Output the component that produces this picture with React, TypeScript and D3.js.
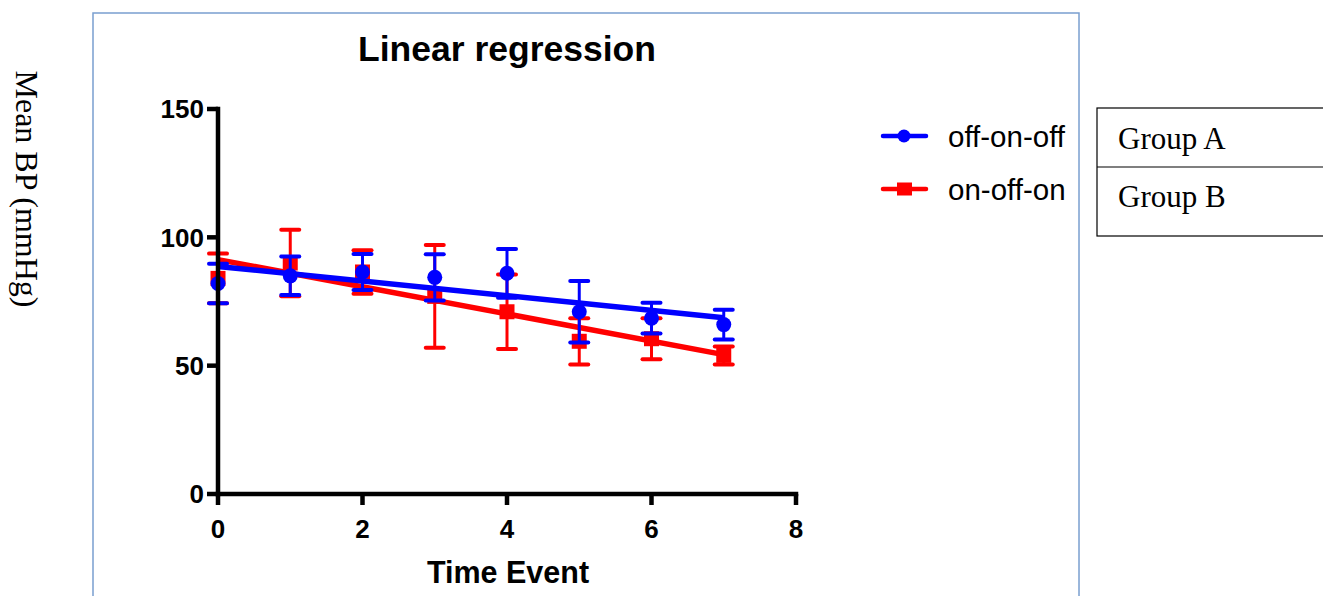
import React from "react";
import * as d3 from "d3";

const timePoints = [0, 1, 2, 3, 4, 5, 6, 7];
const offOnOffMean = [82, 85, 86.5, 84.4, 86, 71, 68.5, 66];
const offOnOffErr = [7.7, 7.5, 7, 9, 9.5, 12, 6, 5.8];
const onOffOnMean = [84, 90, 86.5, 77, 71, 59.5, 60.5, 54];
const onOffOnErr = [9.7, 13, 8.5, 20, 14.5, 9, 8, 3.5];
const xTicks = [0, 2, 4, 6, 8];
const yTicks = [0, 50, 100, 150];
const seriesNames = ["off-on-off", "on-off-on"];
const groupLabels = ["Group A", "Group B"];

function fit(xs: number[], ys: number[]) {
  const mx = d3.mean(xs) as number;
  const my = d3.mean(ys) as number;
  let sxy = 0, sxx = 0;
  xs.forEach((x, i) => { sxy += (x - mx) * (ys[i] - my); sxx += (x - mx) * (x - mx); });
  const slope = sxy / sxx;
  return { slope, intercept: my - slope * mx };
}

export default function App() {
  const x = d3.scaleLinear().domain([0, 8]).range([218, 796]);
  const y = d3.scaleLinear().domain([0, 150]).range([494, 109]);
  const series = [
    { name: seriesNames[1], mean: onOffOnMean, err: onOffOnErr, color: "#ff0000", shape: "square" },
    { name: seriesNames[0], mean: offOnOffMean, err: offOnOffErr, color: "#0000ff", shape: "circle" },
  ];
  const line = d3.line<[number, number]>().x(d => x(d[0])).y(d => y(d[1]));
  const arial = "Arial, 'Liberation Sans', sans-serif";
  const serif = "'Times New Roman', 'Liberation Serif', serif";
  const capW = 9;
  return (
    <svg width={1323} height={596} style={{ position: "absolute", left: 0, top: 0, background: "#fff" }}>
      <rect x={93} y={13} width={986} height={600} fill="none" stroke="#7a9fcf" strokeWidth={1.5} />
      <text x={0} y={0} transform="translate(16,189) rotate(90)" textAnchor="middle" fontFamily={serif} fontSize={32} fill="#000">Mean BP (mmHg)</text>
      <text x={507} y={61} textAnchor="middle" fontFamily={arial} fontWeight="bold" fontSize={35.5} fill="#000">Linear regression</text>

      {series.map(s => {
        const { slope, intercept } = fit(timePoints, s.mean);
        const t0 = timePoints[0], t1 = timePoints[timePoints.length - 1];
        return (
          <g key={s.name}>
            <path d={line([[t0, intercept + slope * t0], [t1, intercept + slope * t1]]) || ""} stroke={s.color} strokeWidth={5.5} fill="none" />
            {timePoints.map((t, i) => {
              const cx = x(t), cy = y(s.mean[i]);
              const top = y(s.mean[i] + s.err[i]), bot = y(s.mean[i] - s.err[i]);
              return (
                <g key={i}>
                  <line x1={cx} x2={cx} y1={top} y2={bot} stroke={s.color} strokeWidth={3} />
                  <line x1={cx - capW} x2={cx + capW} y1={top} y2={top} stroke={s.color} strokeWidth={4} strokeLinecap="round" />
                  <line x1={cx - capW} x2={cx + capW} y1={bot} y2={bot} stroke={s.color} strokeWidth={4} strokeLinecap="round" />
                  {s.shape === "circle"
                    ? <circle cx={cx} cy={cy} r={7.5} fill={s.color} />
                    : <rect x={cx - 7.5} y={cy - 7.5} width={15} height={15} fill={s.color} />}
                </g>
              );
            })}
          </g>
        );
      })}

      <line x1={x(0)} x2={x(0)} y1={y(0)} y2={y(150)} stroke="#000" strokeWidth={4.5} strokeLinecap="square" />
      <line x1={x(0)} x2={x(8)} y1={y(0)} y2={y(0)} stroke="#000" strokeWidth={4.5} strokeLinecap="square" />
      {yTicks.map(v => (
        <g key={v}>
          <line x1={x(0) - 11} x2={x(0)} y1={y(v)} y2={y(v)} stroke="#000" strokeWidth={4.5} />
          <text x={x(0) - 14} y={y(v)} dy="0.36em" textAnchor="end" fontFamily={arial} fontWeight="bold" fontSize={26} fill="#000">{v}</text>
        </g>
      ))}
      {xTicks.map(v => (
        <g key={v}>
          <line x1={x(v)} x2={x(v)} y1={y(0)} y2={y(0) + 11} stroke="#000" strokeWidth={4.5} />
          <text x={x(v)} y={538} textAnchor="middle" fontFamily={arial} fontWeight="bold" fontSize={26} fill="#000">{v}</text>
        </g>
      ))}
      <text x={508} y={583} textAnchor="middle" fontFamily={arial} fontWeight="bold" fontSize={30.5} fill="#000">Time Event</text>

      {[{ c: "#0000ff", shape: "circle", name: seriesNames[0], ly: 136 }, { c: "#ff0000", shape: "square", name: seriesNames[1], ly: 189 }].map(l => (
        <g key={l.name}>
          <line x1={883} x2={926} y1={l.ly} y2={l.ly} stroke={l.c} strokeWidth={4.5} strokeLinecap="round" />
          {l.shape === "circle"
            ? <circle cx={904} cy={l.ly} r={6.5} fill={l.c} />
            : <rect x={897} y={l.ly - 6.5} width={15} height={13} fill={l.c} />}
          <text x={948} y={l.ly + 11} fontFamily={arial} fontSize={29.5} fill="#000">{l.name}</text>
        </g>
      ))}

      <rect x={1097} y={108} width={240} height={128} fill="#fff" stroke="#000" strokeWidth={1.2} />
      <line x1={1097} x2={1330} y1={167} y2={167} stroke="#000" strokeWidth={1.2} />
      {groupLabels.map((g, i) => (
        <text key={g} x={1118} y={149 + i * 58} fontFamily={serif} fontSize={31} fill="#000">{g}</text>
      ))}
    </svg>
  );
}
